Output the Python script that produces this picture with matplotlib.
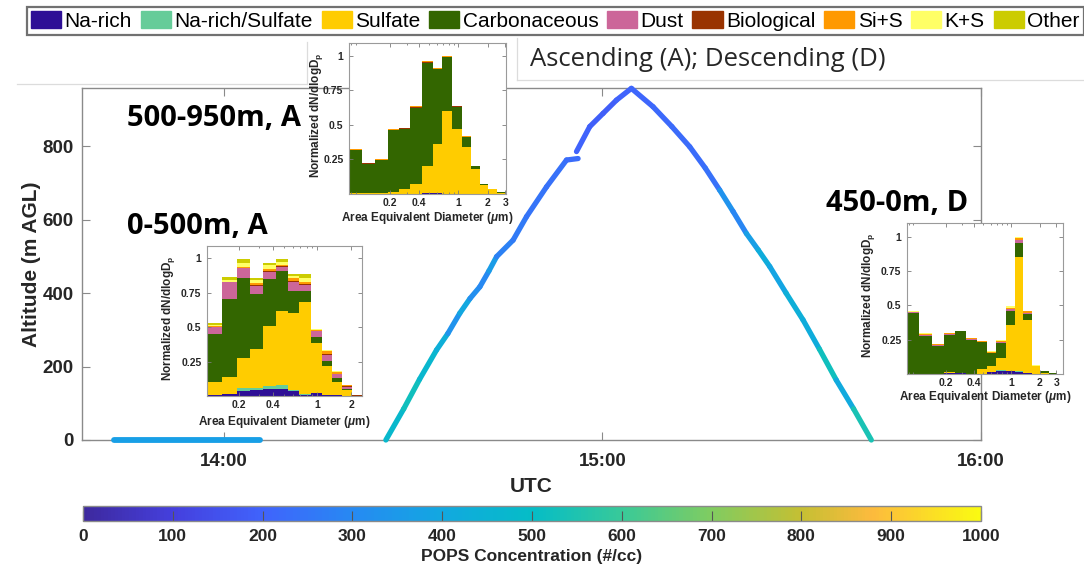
import numpy as np
import pandas as pd
import matplotlib
matplotlib.use("Agg")
import matplotlib.pyplot as plt
import matplotlib.dates as mdates
from matplotlib.collections import LineCollection
from matplotlib.colors import LinearSegmentedColormap, Normalize
from matplotlib.cm import ScalarMappable
from matplotlib.patches import Patch
from matplotlib.lines import Line2D
from matplotlib.ticker import FixedLocator, FixedFormatter, NullFormatter, LogLocator

plt.rcParams['font.family'] = ['Liberation Sans', 'DejaVu Sans']
plt.rcParams['mathtext.fontset'] = 'custom'
plt.rcParams['mathtext.rm'] = 'Liberation Sans:bold'
plt.rcParams['mathtext.bf'] = 'Liberation Sans:bold'
plt.rcParams['mathtext.it'] = 'Liberation Sans:bold:italic'

# ---------------- data ----------------
DAY = "2019-08-01 "
# flight track: time (UTC), altitude (m AGL), POPS concentration (#/cc)
ground_time = ["13:42:30", "14:05:40"]
ground_alt = [0, 0]
ground_conc = [370, 370]

asc_time = ["14:25:40", "14:28:30", "14:31:00", "14:33:42", "14:35:30", "14:37:23",
            "14:39:00", "14:40:34", "14:42:00", "14:43:13", "14:45:50", "14:47:58",
            "14:51:08", "14:54:18", "14:56:08"]
asc_alt = [0, 85, 165, 245, 290, 345, 385, 417, 460, 499, 544, 608, 689, 762, 766]
asc_conc = [480, 520, 470, 430, 330, 400, 320, 300, 360, 280, 260, 245, 235, 225, 220]

top_time = ["14:55:53", "14:57:59", "15:00:06", "15:02:13", "15:04:35", "15:08:01",
            "15:11:00", "15:13:50", "15:16:18", "15:18:35", "15:20:42", "15:22:49",
            "15:24:42", "15:26:31", "15:29:06", "15:31:47", "15:34:24", "15:37:04",
            "15:39:48", "15:42:37"]
top_alt = [785, 853, 889, 925, 957, 907, 853, 798, 740, 680, 622, 562, 517, 472,
           400, 327, 247, 163, 85, 0]
top_conc = [200, 190, 185, 200, 210, 215, 220, 225, 235, 330, 290, 370, 420, 390,
            430, 420, 520, 410, 540, 420]

x_ticks = ["14:00", "15:00", "16:00"]
x_limits = ["13:37:30", "16:00:00"]
y_ticks = [0, 200, 400, 600, 800]
y_max = 958
cbar_ticks = [0, 100, 200, 300, 400, 500, 600, 700, 800, 900, 1000]

# particle classes
CLASSES = ["Na-rich", "Na-rich/Sulfate", "Sulfate", "Carbonaceous", "Dust",
           "Biological", "Si+S", "K+S", "Other"]
CLASS_COLORS = ["#2e0f96", "#66cc99", "#ffcc00", "#336600", "#cc6699",
                "#993300", "#ff9900", "#ffff66", "#cccc00"]

BIN_EDGES = [0.077, 0.104, 0.142, 0.192, 0.25, 0.325, 0.426, 0.545, 0.688, 0.87,
             1.09, 1.34, 1.65, 2.02, 2.49, 3.05]

# 500-950 m, ascending (15 bins)
hi_narich = [0, 0, 0, 0, 0, 0.003, 0.004, 0.005, 0.003, 0.002, 0, 0, 0, 0, 0]
hi_nasulf = [0, 0, 0, 0, 0, 0, 0, 0, 0, 0, 0, 0, 0, 0, 0]
hi_sulf = [0.008, 0.008, 0.008, 0.012, 0.033, 0.072, 0.196, 0.355, 0.597, 0.468,
           0.34, 0.18, 0.068, 0.034, 0.01]
hi_carb = [0.312, 0.212, 0.237, 0.45, 0.439, 0.551, 0.75, 0.545, 0.392, 0.163,
           0.073, 0.025, 0.002, 0.002, 0.002]
hi_dust = [0, 0, 0, 0, 0, 0, 0, 0, 0, 0, 0, 0, 0, 0, 0]
hi_bio = [0.002, 0.002, 0.002, 0.003, 0.003, 0.003, 0.004, 0.003, 0.003, 0.003,
          0.003, 0, 0, 0, 0]
hi_sis = [0.004, 0.003, 0.003, 0.005, 0.005, 0.006, 0.006, 0.005, 0.005, 0.004,
          0.004, 0, 0, 0, 0]
hi_ks = [0, 0, 0, 0, 0, 0, 0, 0, 0, 0, 0, 0, 0, 0, 0]
hi_other = [0, 0, 0, 0, 0, 0, 0, 0, 0, 0, 0, 0, 0, 0, 0]

# 0-500 m, ascending (13 bins, starting at second edge)
lo_narich = [0.005, 0.015, 0.039, 0.047, 0.05, 0.05, 0.037, 0.007, 0.02, 0.01, 0.005, 0.003, 0]
lo_nasulf = [0, 0, 0.021, 0.013, 0.025, 0.03, 0.005, 0.008, 0.005, 0, 0, 0, 0]
lo_sulf = [0.095, 0.125, 0.214, 0.28, 0.435, 0.54, 0.563, 0.665, 0.36, 0.21, 0.095, 0.042, 0.003]
lo_carb = [0.348, 0.565, 0.581, 0.40, 0.337, 0.288, 0.158, 0.083, 0.045, 0.037, 0.028, 0.005, 0]
lo_dust = [0.056, 0.121, 0.072, 0.06, 0.056, 0.032, 0.067, 0.043, 0.04, 0.043, 0.029, 0.018, 0]
lo_bio = [0, 0, 0.003, 0.005, 0.004, 0.004, 0.007, 0.01, 0.003, 0.005, 0.005, 0.005, 0.007]
lo_sis = [0.004, 0.005, 0.01, 0.015, 0.013, 0.01, 0.018, 0.014, 0.007, 0.022, 0.015, 0.007, 0]
lo_ks = [0.01, 0.015, 0.025, 0.023, 0.03, 0.022, 0.014, 0.03, 0.008, 0.008, 0.005, 0, 0]
lo_other = [0.015, 0.021, 0.028, 0.017, 0.02, 0.019, 0.015, 0.024, 0, 0, 0, 0, 0]

# 450-0 m, descending (15 bins)
de_narich = [0.003, 0, 0, 0.01, 0.005, 0.003, 0.003, 0.012, 0.025, 0.02, 0.015, 0.005, 0, 0, 0]
de_nasulf = [0, 0, 0, 0, 0, 0, 0, 0, 0.005, 0.003, 0.01, 0, 0, 0, 0]
de_sulf = [0, 0, 0, 0.005, 0.005, 0, 0.035, 0.048, 0.085, 0.337, 0.83, 0.39, 0.055, 0.005, 0]
de_carb = [0.443, 0.275, 0.206, 0.272, 0.30, 0.247, 0.192, 0.09, 0.11, 0.096, 0.098,
           0.045, 0, 0.015, 0.005]
de_dust = [0.004, 0.012, 0.006, 0.006, 0.003, 0.005, 0.005, 0.005, 0.005, 0.014, 0.025,
           0.008, 0.005, 0, 0]
de_bio = [0, 0, 0, 0, 0, 0, 0, 0, 0, 0, 0, 0, 0, 0, 0]
de_sis = [0.004, 0.005, 0.004, 0.004, 0, 0.005, 0.005, 0.006, 0.01, 0.01, 0.012, 0.008, 0, 0, 0]
de_ks = [0.006, 0.008, 0.004, 0.003, 0.002, 0, 0, 0.004, 0.01, 0.015, 0.01, 0.004, 0.003, 0, 0]
de_other = [0, 0, 0, 0, 0, 0, 0, 0, 0, 0, 0, 0, 0, 0, 0]

# ---------------- style ----------------
W, H = 1084, 573
def fx(px):
    return px / W
def fy(py):
    return 1 - py / H
def box(l, t, r, b):
    return [fx(l), fy(b), (r - l) / W, (b - t) / H]

PARULA = [(0.0, (0.24, 0.16, 0.62)), (0.1, (0.27, 0.25, 0.87)), (0.2, (0.25, 0.39, 0.99)),
          (0.3, (0.15, 0.54, 0.95)), (0.4, (0.07, 0.66, 0.88)), (0.5, (0.02, 0.74, 0.78)),
          (0.6, (0.22, 0.79, 0.60)), (0.7, (0.50, 0.80, 0.38)), (0.8, (0.77, 0.75, 0.20)),
          (0.88, (0.99, 0.73, 0.24)), (1.0, (0.98, 0.98, 0.07))]
cmap = LinearSegmentedColormap.from_list("parula_like", PARULA)
norm = Normalize(0, 1000)
FRAME = "#8a8a8a"

fig = plt.figure(figsize=(W / 100, H / 100), dpi=100)

# faint outlines of pasted panels
for (x0, y0, x1, y1) in [(17, 84, 307, 84), (307, 42, 307, 84), (517, 38, 517, 80), (517, 80, 1084, 80)]:
    fig.add_artist(Line2D([fx(x0), fx(x1)], [fy(y0), fy(y1)], color="#dcdcdc", lw=0.9))

# ---------------- main axes ----------------
ax = fig.add_axes(box(82, 88, 981, 440))

def tnum(lst):
    return mdates.date2num(pd.to_datetime([DAY + t for t in lst]))

def track(times, alts, concs, lw=3.8):
    x = tnum(times)
    pts = np.column_stack([x, np.asarray(alts, float)])
    segs = np.stack([pts[:-1], pts[1:]], axis=1)
    c = np.asarray(concs, float)[:-1]
    lc = LineCollection(segs, cmap=cmap, norm=norm, linewidths=lw, capstyle="round",
                        joinstyle="round", zorder=3, clip_on=False)
    lc.set_array(c)
    ax.add_collection(lc)

track(ground_time, ground_alt, ground_conc, lw=4.2)
track(asc_time, asc_alt, asc_conc)
track(top_time, top_alt, top_conc)

ax.set_xlim(tnum(x_limits))
ax.set_ylim(0, y_max)
ax.xaxis.set_major_locator(FixedLocator(tnum(x_ticks)))
ax.xaxis.set_major_formatter(mdates.DateFormatter("%H:%M"))
ax.set_yticks(y_ticks)
ax.tick_params(direction="in", length=6, width=0.8, color=FRAME, top=True, right=True,
               labelsize=13.5)
ax.tick_params(axis="x", pad=9)
ax.tick_params(axis="y", pad=6)
for lab in ax.get_xticklabels() + ax.get_yticklabels():
    lab.set_fontweight("bold")
    lab.set_color("#262626")
for s in ax.spines.values():
    s.set_color(FRAME)
    s.set_linewidth(1.0)
ax.set_xlabel("UTC", fontsize=15, fontweight="bold", color="#262626")
ax.xaxis.set_label_coords(0.5, (440 - 487) / 352)
ax.xaxis.label.set_va("center")
ax.set_ylabel("Altitude (m AGL)", fontsize=15, fontweight="bold", color="#262626")
ax.yaxis.set_label_coords((32 - 82) / 899, 0.5)
ax.yaxis.label.set_va("center")

# ---------------- colorbar ----------------
cax = fig.add_axes(box(83, 506, 981, 521))
cb = fig.colorbar(ScalarMappable(norm=norm, cmap=cmap), cax=cax, orientation="horizontal")
cb.set_ticks(cbar_ticks)
cax.tick_params(direction="in", length=7, width=0.8, color="#555555", labelsize=12.5, pad=6)
for lab in cax.get_xticklabels():
    lab.set_fontweight("bold")
    lab.set_color("#262626")
cb.outline.set_edgecolor(FRAME)
cb.outline.set_linewidth(1.0)
cax.set_xlabel("POPS Concentration (#/cc)", fontsize=12.5, fontweight="bold", color="#262626")
cax.xaxis.set_label_coords(0.5, -(557 - 521) / 15)
cax.xaxis.label.set_va("center")

# ---------------- text ----------------
big = dict(fontsize=21, fontweight="bold", family=["Open Sans", "DejaVu Sans"], va="center",
           ha="left", color="black")
fig.text(fx(127), fy(119), "500-950m, A", **big)
fig.text(fx(127), fy(227), "0-500m, A", **big)
fig.text(fx(826), fy(204), "450-0m, D", **big)
fig.text(fx(530), fy(60), "Ascending (A); Descending (D)", fontsize=18.5,
         family=["Open Sans", "DejaVu Sans"], va="center", ha="left", color="#262626")

# ---------------- legend ----------------
handles = [Patch(facecolor=c, edgecolor=c, label=n) for n, c in zip(CLASSES, CLASS_COLORS)]
leg = fig.legend(handles=handles, loc="upper left", bbox_to_anchor=(fx(27), fy(7)),
                 ncol=9, fontsize=15, frameon=True, fancybox=False, borderaxespad=0,
                 handlelength=1.45, handleheight=0.85, handletextpad=0.16,
                 columnspacing=0.42, borderpad=0.2)
leg.get_frame().set_edgecolor("#4d4d4d")
leg.get_frame().set_linewidth(1.6)

# ---------------- insets ----------------
def inset(rect, layers, edges, xlim, ylim_top, xticks, ylab_x, xlab_y):
    a = fig.add_axes(rect)
    e = np.asarray(edges, float)
    left = e[:-1]
    width = np.diff(e)
    bottom = np.zeros(len(left))
    for vals, col in zip(layers, CLASS_COLORS):
        v = np.asarray(vals, float)
        a.bar(left, v, width=width, bottom=bottom, align="edge", color=col,
              edgecolor="none", linewidth=0)
        bottom += v
    a.set_xscale("log")
    a.set_xlim(xlim)
    a.set_ylim(0, ylim_top)
    a.xaxis.set_major_locator(FixedLocator(xticks))
    a.xaxis.set_major_formatter(FixedFormatter([f"{t:g}" for t in xticks]))
    a.xaxis.set_minor_locator(LogLocator(base=10, subs=np.arange(2, 10)))
    a.xaxis.set_minor_formatter(NullFormatter())
    a.set_yticks([0.25, 0.5, 0.75, 1])
    a.set_yticklabels(["0.25", "0.5", "0.75", "1"])
    a.tick_params(which="both", direction="in", top=True, right=True, color="#7a7a7a",
                  width=0.6, labelsize=7.5)
    a.tick_params(which="major", length=3)
    a.tick_params(which="minor", length=1.6)
    a.tick_params(axis="x", pad=3)
    a.tick_params(axis="y", pad=4)
    for lab in a.get_xticklabels() + a.get_yticklabels():
        lab.set_fontweight("bold")
        lab.set_color("#262626")
    for s in a.spines.values():
        s.set_color("#9a9a9a")
        s.set_linewidth(0.8)
    a.set_xlabel("Area Equivalent Diameter ($\\mu$m)", fontsize=8.5, fontweight="bold",
                 color="#262626")
    a.xaxis.set_label_coords(0.5, xlab_y)
    a.xaxis.label.set_va("center")
    a.set_ylabel("Normalized dN/dlogD$_\\mathrm{p}$", fontsize=8.5, fontweight="bold",
                 color="#262626")
    a.yaxis.set_label_coords(ylab_x, 0.52)
    a.yaxis.label.set_va("center")
    return a

hi_layers = [hi_narich, hi_nasulf, hi_sulf, hi_carb, hi_dust, hi_bio, hi_sis, hi_ks, hi_other]
lo_layers = [lo_narich, lo_nasulf, lo_sulf, lo_carb, lo_dust, lo_bio, lo_sis, lo_ks, lo_other]
de_layers = [de_narich, de_nasulf, de_sulf, de_carb, de_dust, de_bio, de_sis, de_ks, de_other]

inset(box(349, 43, 506, 194), hi_layers, BIN_EDGES, (0.077, 3.05), 1.094,
      [0.2, 0.4, 1, 2, 3], -0.21, -0.157)
inset(box(207, 246, 362, 396), lo_layers, BIN_EDGES[1:15], (0.104, 2.49), 1.09,
      [0.2, 0.4, 1, 2], -0.25, -0.17)
inset(box(907, 223, 1063, 374), de_layers, BIN_EDGES, (0.077, 3.54), 1.10,
      [0.2, 0.4, 1, 2, 3], -0.245, -0.155)

fig.savefig("out.png", dpi=100)
